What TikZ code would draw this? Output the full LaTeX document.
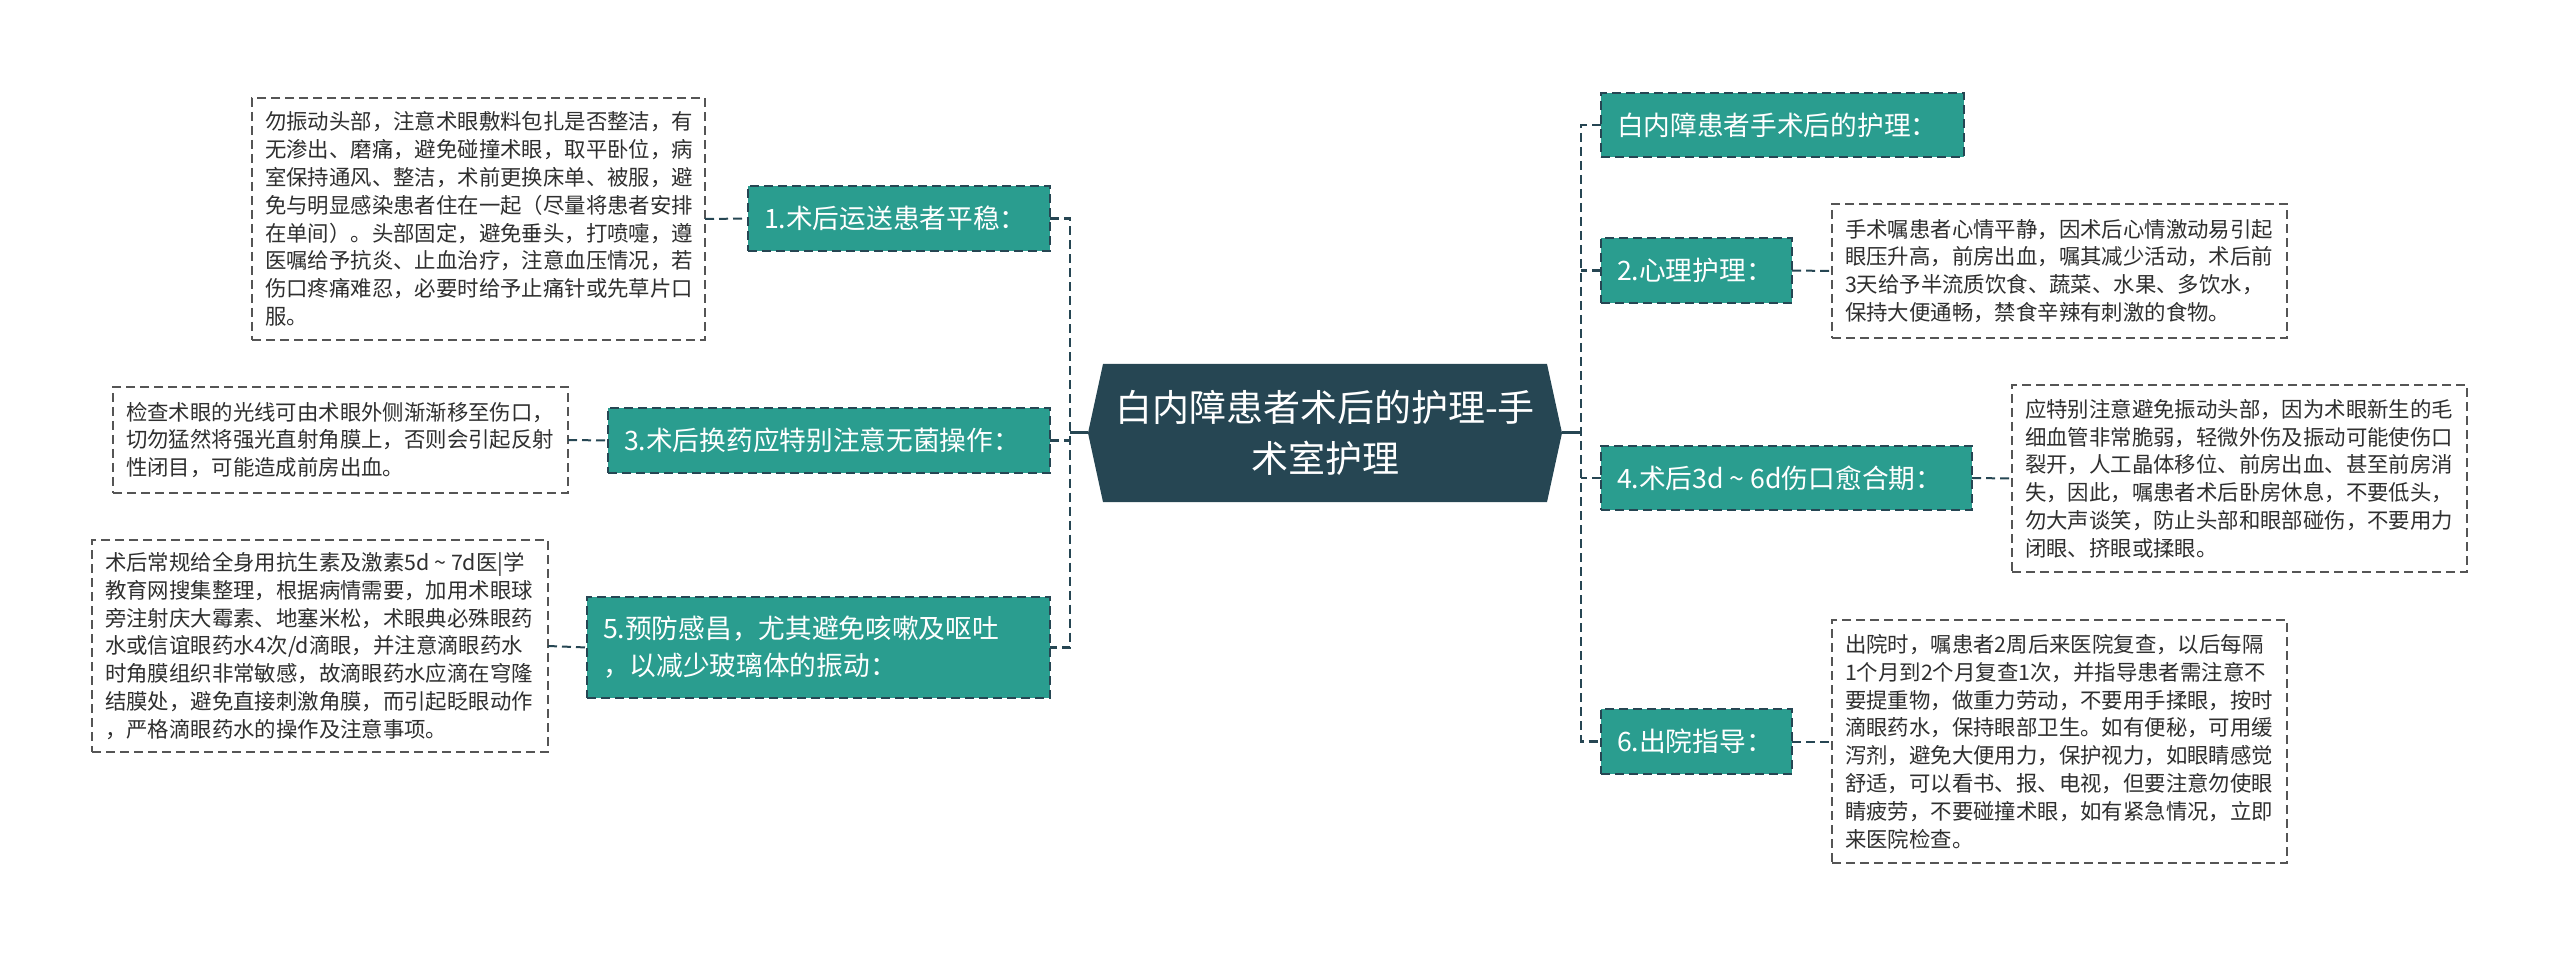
\documentclass[tikz,border=0pt]{standalone}
\usepackage{fontspec}
\setmainfont{Noto Sans CJK SC}
\usetikzlibrary{backgrounds}
\definecolor{darkc}{HTML}{264653}
\definecolor{nodegreen}{HTML}{2A9D8F}
\definecolor{boxgray}{HTML}{555555}
\definecolor{textgray}{HTML}{2F2F2F}
\newcommand{\smtilde}{\kern0.22em\textasciitilde\kern0.22em}
\begin{document}
\begin{tikzpicture}[x=1pt,y=-1pt,
  every node/.style={inner sep=0pt, outer sep=0pt},
  topic/.style={draw=darkc, line width=2pt, dash pattern=on 9pt off 5pt, fill=nodegreen, text=white,
    font=\fontsize{26.7}{37}\selectfont, align=left, inner xsep=16pt, inner ysep=0pt, anchor=west},
  detail/.style={draw=boxgray, line width=1.6pt, dash pattern=on 9pt off 5pt, fill=white, text=textgray,
    font=\fontsize{21.4}{27.8}\selectfont, align=left, inner xsep=13pt, inner ysep=0pt},
  link/.style={draw=darkc, line width=2.5pt, dash pattern=on 9pt off 5pt},
  sublink/.style={draw=darkc, line width=2pt, dash pattern=on 9pt off 5pt},
  trunk/.style={draw=darkc, line width=3pt}]

\useasboundingbox (0,0) rectangle (2560,957);

% root
\node[minimum width=474pt, minimum height=138pt, text=white, align=center,
  font=\fontsize{37}{51}\selectfont] (root) at (1325,433) {白内障患者术后的护理-手\\术室护理};
\begin{scope}[on background layer]
\fill[darkc] ([xshift=15pt]root.north west) -- ([xshift=-15pt]root.north east) -- (root.east)
  -- ([xshift=-15pt]root.south east) -- ([xshift=15pt]root.south west) -- (root.west) -- cycle;
\end{scope}

\coordinate (busL) at (1070,433);
\coordinate (busR) at (1581,433);

% left topics
\node[topic, text width=270pt, minimum height=65pt] (t1) at (748,218.5) {1.术后运送患者平稳：};
\node[topic, text width=410pt, minimum height=65pt] (t3) at (608,440.5) {3.术后换药应特别注意无菌操作：};
\node[topic, text width=431pt, minimum height=101pt] (t5) at (587,647.5) {5.预防感昌，尤其避免咳嗽及呕吐\\，以减少玻璃体的振动：};

% right topics
\node[topic, text width=331pt, minimum height=64pt] (r0) at (1601,125) {白内障患者手术后的护理：};
\node[topic, text width=159pt, minimum height=65pt] (r2) at (1601,270.5) {2.心理护理：};
\node[topic, text width=339pt, minimum height=64pt] (r4) at (1601,478) {4.术后3d\smtilde 6d伤口愈合期：};
\node[topic, text width=159pt, minimum height=65pt] (r6) at (1601,741.5) {6.出院指导：};

% detail boxes
\node[detail, text width=427pt, minimum height=242pt] (b1) at (478.5,219) {勿振动头部，注意术眼敷料包扎是否整洁，有\\无渗出、磨痛，避免碰撞术眼，取平卧位，病\\室保持通风、整洁，术前更换床单、被服，避\\免与明显感染患者住在一起（尽量将患者安排\\在单间）。头部固定，避免垂头，打喷嚏，遵\\医嘱给予抗炎、止血治疗，注意血压情况，若\\伤口疼痛难忍，必要时给予止痛针或先草片口\\服。};
\node[detail, text width=429pt, minimum height=106pt] (b3) at (340.5,440) {检查术眼的光线可由术眼外侧渐渐移至伤口，\\切勿猛然将强光直射角膜上，否则会引起反射\\性闭目，可能造成前房出血。};
\node[detail, text width=430pt, minimum height=212pt] (b5) at (320,646) {术后常规给全身用抗生素及激素5d\smtilde 7d医|学\\教育网搜集整理，根据病情需要，加用术眼球\\旁注射庆大霉素、地塞米松，术眼典必殊眼药\\水或信谊眼药水4次/d滴眼，并注意滴眼药水\\时角膜组织非常敏感，故滴眼药水应滴在穹隆\\结膜处，避免直接刺激角膜，而引起眨眼动作\\，严格滴眼药水的操作及注意事项。};
\node[detail, text width=429pt, minimum height=134pt] (b2) at (2059.5,271) {手术嘱患者心情平静，因术后心情激动易引起\\眼压升高，前房出血，嘱其减少活动，术后前\\3天给予半流质饮食、蔬菜、水果、多饮水，\\保持大便通畅，禁食辛辣有刺激的食物。};
\node[detail, text width=429pt, minimum height=187pt] (b4) at (2239.5,478.5) {应特别注意避免振动头部，因为术眼新生的毛\\细血管非常脆弱，轻微外伤及振动可能使伤口\\裂开，人工晶体移位、前房出血、甚至前房消\\失，因此，嘱患者术后卧房休息，不要低头，\\勿大声谈笑，防止头部和眼部碰伤，不要用力\\闭眼、挤眼或揉眼。};
\node[detail, text width=429pt, minimum height=243pt] (b6) at (2059.5,741.5) {出院时，嘱患者2周后来医院复查，以后每隔\\1个月到2个月复查1次，并指导患者需注意不\\要提重物，做重力劳动，不要用手揉眼，按时\\滴眼药水，保持眼部卫生。如有便秘，可用缓\\泻剂，避免大便用力，保护视力，如眼睛感觉\\舒适，可以看书、报、电视，但要注意勿使眼\\睛疲劳，不要碰撞术眼，如有紧急情况，立即\\来医院检查。};

% trunk connectors
\draw[trunk] (root.west) -- (busL);
\draw[trunk] (root.east) -- (busR);

% left bus
\draw[link] (t1.east) -| (busL) |- (t5.east);
\draw[link] (t3.east) -- (t3.east -| busL);

% right bus
\draw[link] (r0.west) -| (busR) |- (r6.west);
\draw[link] (r2.west) -- (r2.west -| busR);
\draw[link] (r4.west) -- (r4.west -| busR);

% detail connectors
\draw[sublink] (b1.east) -- (t1.west);
\draw[sublink] (b3.east) -- (t3.west);
\draw[sublink] (b5.east) -- (t5.west);
\draw[sublink] (r2.east) -- (b2.west);
\draw[sublink] (r4.east) -- (b4.west);
\draw[sublink] (r6.east) -- (b6.west);
\end{tikzpicture}
\end{document}
